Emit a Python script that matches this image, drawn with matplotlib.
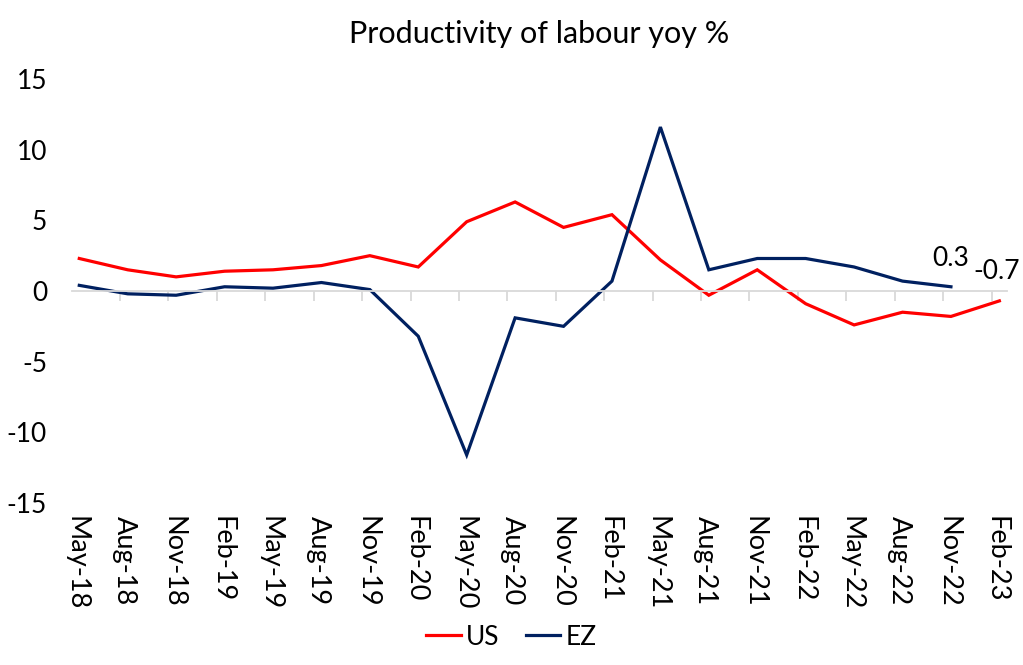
import numpy as np
import matplotlib.pyplot as plt
from matplotlib.transforms import blended_transform_factory

plt.rcParams['font.family'] = ['Lato', 'DejaVu Sans']
plt.rcParams['axes.unicode_minus'] = False

quarters = ["May-18", "Aug-18", "Nov-18", "Feb-19", "May-19", "Aug-19", "Nov-19",
            "Feb-20", "May-20", "Aug-20", "Nov-20", "Feb-21", "May-21", "Aug-21",
            "Nov-21", "Feb-22", "May-22", "Aug-22", "Nov-22", "Feb-23"]
us = [2.3, 1.5, 1.0, 1.4, 1.5, 1.8, 2.5, 1.7, 4.9, 6.3, 4.5, 5.4, 2.2, -0.3,
      1.5, -0.9, -2.4, -1.5, -1.8, -0.7]
ez = [0.4, -0.2, -0.3, 0.3, 0.2, 0.6, 0.1, -3.2, -11.6, -1.9, -2.5, 0.7, 11.6, 1.5,
      2.3, 2.3, 1.7, 0.7, 0.3, np.nan]

x = np.arange(len(quarters))

fig = plt.figure(figsize=(10.23, 6.65), dpi=100)
ax = fig.add_axes([0.0704, 0.2436, 0.9136, 0.6376])

ax.plot(x, us, color="#FF0000", lw=2.3, label="US", solid_joinstyle="miter")
ax.plot(x, ez, color="#002060", lw=2.3, label="EZ", solid_joinstyle="miter")

# end-point labels
ax.annotate("0.3", (x[18], ez[18]), xytext=(0, 11), textcoords="offset points",
            ha="center", va="bottom", fontsize=19)
ax.annotate("-0.7", (x[19], us[19]), xytext=(-2, 12), textcoords="offset points",
            ha="center", va="bottom", fontsize=19)

ax.set_ylim(-15, 15)
ax.set_yticks(np.arange(-15, 16, 5))
ax.tick_params(axis="y", length=0, pad=18, labelsize=19)

# category axis drawn at zero with gray tick marks between categories
for s in ["top", "right", "left"]:
    ax.spines[s].set_visible(False)
ax.spines["bottom"].set_position(("data", 0))
ax.spines["bottom"].set_color("#D9D9D9")
ax.spines["bottom"].set_linewidth(1.3)
ax.set_xticks(x - 0.16)
ax.set_xticklabels([])
ax.tick_params(axis="x", direction="out", length=7, width=1.3, color="#D9D9D9")
ax.set_xlim(-0.15, 19.15)

trans = blended_transform_factory(ax.transData, ax.transAxes)
for xi, lab in zip(x, quarters):
    ax.text(xi - 0.06, -0.03, lab, transform=trans, rotation=-90,
            ha="center", va="top", fontsize=19.5)

ax.set_title("Productivity of labour yoy %", fontsize=22, pad=26)

fig.legend(loc="center", bbox_to_anchor=(0.5, 0.042), ncol=2, frameon=False,
           fontsize=19, handlelength=1.3, handletextpad=0.2, columnspacing=1.0)

fig.savefig("out.png", dpi=100)
